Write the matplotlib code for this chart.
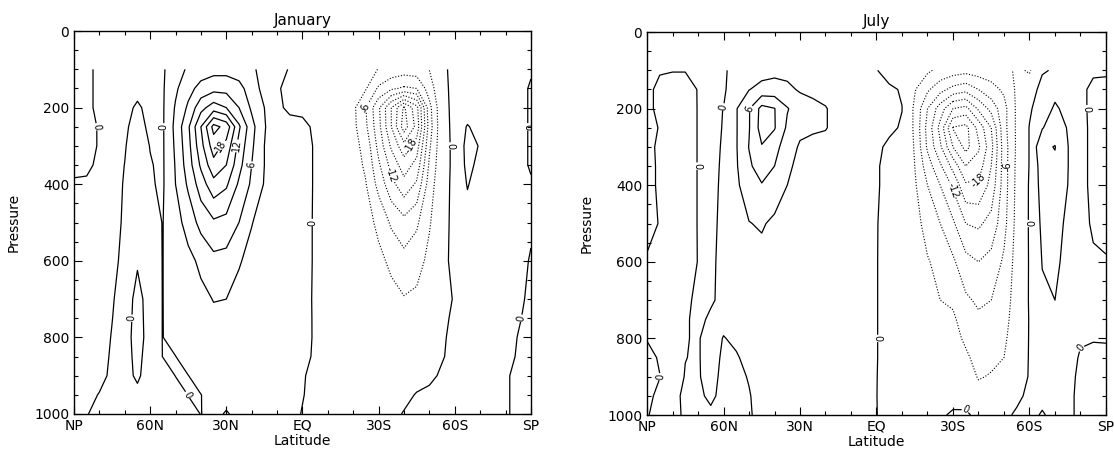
import numpy as np
import matplotlib
matplotlib.use("Agg")
import matplotlib.pyplot as plt
from matplotlib.ticker import MultipleLocator

# grid the streamfunction was read on (latitude NP -> SP, pressure top -> surface)
lats = [90, 85, 80, 75, 70, 65, 60, 55, 50, 45, 40, 35, 30, 25, 20, 15, 10, 5, 0,
        -5, -10, -15, -20, -25, -30, -35, -40, -45, -50, -55, -60, -65, -70, -75, -80, -85, -90]
pres = [100, 150, 200, 250, 300, 350, 400, 500, 600, 700, 750, 800, 850, 900, 950, 1000]

# January, one row per pressure level
jan_psi = [
    [0.6, 0.5, -0.5, -0.6, -0.6, -0.5, -0.4, -0.3, 1.5, 3.5, 4.5, 5.0, 5.0, 4.5, 3.5, 2.0, 0.5, -0.1, -0.2, -0.3, -0.4, -0.6, -1.0, -2.0, -3.1, -4.0, -4.5, -4.2, -2.9, -0.3, 0.4, 0.5, 0.5, 0.5, 0.4, 0.3, 0.1],
    [0.6, 0.5, -0.5, -0.6, -0.6, -0.4, -0.4, -0.3, 2.5, 5.0, 7.0, 8.0, 8.0, 7.0, 4.5, 2.0, 0.2, -0.5, -0.4, -0.8, -1.0, -1.3, -1.8, -2.8, -6.5, -8.5, -9.5, -9.0, -4.5, -0.4, 0.4, 0.6, 0.6, 0.6, 0.5, 0.3, -0.1],
    [0.6, 0.5, -0.5, -0.5, -0.4, 0.2, -0.4, -0.3, 3.3, 6.5, 11.0, 13.5, 12.0, 9.0, 5.5, 3.0, 0.3, -0.3, -0.3, -0.5, -0.8, -1.2, -2.3, -6.0, -11.5, -18.0, -24.5, -19.0, -7.0, -0.5, 0.4, 0.8, 1.0, 0.8, 0.6, 0.3, -0.1],
    [0.5, 0.4, -0.1, -0.4, -0.3, 0.7, -0.4, -0.3, 3.8, 8.5, 15.0, 22.0, 20.0, 12.5, 7.0, 3.2, 1.2, 0.5, 0.3, -0.2, -0.7, -1.2, -2.2, -5.5, -11.0, -18.0, -25.5, -20.0, -7.5, -0.6, 0.4, 3.3, 1.5, 1.0, 0.6, 0.3, -0.1],
    [0.5, 0.4, -0.1, -0.5, -0.1, 0.8, -0.05, -0.3, 3.5, 8.0, 14.0, 19.5, 17.0, 11.0, 6.5, 3.0, 1.5, 0.8, 0.6, -0.15, -0.7, -1.2, -2.0, -4.0, -10.0, -15.5, -20.0, -16.5, -6.5, -0.7, 0.4, 4.0, 2.8, 1.0, 0.6, 0.3, -0.1],
    [0.4, 0.4, -0.4, -0.5, 0.02, 1.0, 0.1, -0.3, 3.2, 7.5, 12.5, 17.0, 15.0, 10.0, 6.0, 3.0, 1.5, 0.8, 0.6, -0.15, -0.6, -1.1, -1.9, -3.4, -8.5, -13.0, -16.5, -14.0, -5.5, -0.7, 0.4, 3.8, 2.2, 0.9, 0.5, 0.3, -0.1],
    [-0.2, -0.3, -0.5, -0.5, 0.1, 1.0, 0.2, -0.3, 3.0, 6.5, 10.5, 14.0, 12.5, 8.5, 5.5, 2.8, 1.3, 0.7, 0.6, -0.15, -0.5, -1.0, -1.6, -2.9, -7.0, -11.0, -14.0, -11.5, -4.5, -0.6, 0.4, 3.2, 1.5, 0.8, 0.4, 0.2, 0.1],
    [-0.3, -0.4, -0.5, -0.5, 0.2, 0.8, 0.6, -0.05, 1.8, 4.2, 7.0, 8.5, 8.0, 6.0, 3.1, 2.0, 1.0, 0.6, 0.5, -0.15, -0.4, -0.8, -1.2, -2.0, -3.6, -6.5, -8.0, -6.5, -3.3, -0.5, 0.4, 1.8, 1.0, 0.7, 0.4, 0.2, 0.1],
    [-0.3, -0.4, -0.5, -0.4, 0.4, 0.1, 0.5, -0.03, 1.3, 2.2, 3.6, 5.2, 5.0, 3.2, 2.3, 1.5, 0.8, 0.6, 0.5, -0.15, -0.3, -0.6, -0.9, -1.4, -2.4, -3.5, -5.0, -4.2, -2.2, -0.4, 0.4, 0.9, 0.7, 0.5, 0.3, 0.2, -0.05],
    [-0.3, -0.4, -0.4, -0.1, 0.5, -0.3, 0.4, -0.02, 0.8, 1.5, 2.3, 3.1, 3.0, 2.3, 1.6, 1.0, 0.5, 0.5, 0.4, -0.15, -0.25, -0.4, -0.6, -1.0, -1.6, -2.3, -2.8, -2.4, -1.5, -0.4, 0.1, 0.7, 0.5, 0.4, 0.3, 0.1, -0.1],
    [-0.3, -0.4, -0.4, -0.02, 0.45, -0.35, 0.4, -0.02, 0.65, 1.25, 1.9, 2.5, 2.5, 1.9, 1.3, 0.85, 0.45, 0.45, 0.35, -0.12, -0.22, -0.35, -0.5, -0.8, -1.25, -1.8, -2.1, -1.85, -1.15, -0.3, 0.25, 0.65, 0.45, 0.35, 0.25, 0.05, -0.15],
    [-0.3, -0.4, -0.4, 0.05, 0.4, -0.4, 0.4, -0.02, 0.5, 1.0, 1.5, 2.0, 2.0, 1.5, 1.0, 0.7, 0.4, 0.4, 0.3, -0.1, -0.2, -0.3, -0.4, -0.6, -0.9, -1.3, -1.5, -1.3, -0.8, -0.2, 0.4, 0.6, 0.4, 0.3, 0.2, -0.02, -0.2],
    [-0.3, -0.4, -0.3, 0.1, 0.4, -0.3, 0.5, -0.02, -0.02, 0.6, 0.8, 1.2, 1.2, 1.0, 0.7, 0.5, 0.3, 0.3, 0.2, -0.1, -0.2, -0.3, -0.3, -0.4, -0.6, -0.9, -1.1, -0.9, -0.6, -0.1, 0.4, 0.5, 0.4, 0.3, 0.15, -0.05, -0.25],
    [-0.3, -0.3, -0.3, 0.2, 0.4, -0.2, 0.6, 0.5, -0.02, -0.02, 0.5, 0.6, 0.7, 0.6, 0.5, 0.4, 0.3, 0.2, 0.1, -0.3, -0.3, -0.3, -0.4, -0.5, -0.7, -0.8, -0.8, -0.6, -0.3, 0.2, 0.4, 0.5, 0.3, 0.2, 0.05, -0.1, -0.3],
    [-0.3, -0.3, 0.05, 0.3, 0.4, 0.3, 0.5, 0.5, 0.4, -0.02, -0.02, 0.4, 0.4, 0.4, 0.3, 0.3, 0.2, 0.2, 0.05, -0.3, -0.3, -0.3, -0.3, -0.4, -0.5, -0.5, -0.4, 0.1, 0.3, 0.3, 0.3, 0.3, 0.2, 0.15, 0.05, -0.1, -0.3],
    [-0.3, -0.05, 0.3, 0.3, 0.3, 0.3, 0.3, 0.3, 0.3, 0.3, -0.02, 0.3, -0.1, 0.3, 0.3, 0.3, 0.2, 0.3, -0.05, -0.2, -0.3, -0.3, -0.3, -0.4, -0.4, -0.4, 0.1, 0.3, 0.3, 0.3, 0.3, 0.3, 0.2, 0.1, 0.05, -0.1, -0.3],
]

# July, one row per pressure level
jul_psi = [
    [-0.3, -0.1, -0.05, -0.05, -0.3, -0.3, -0.2, 0.5, 1.2, 1.8, 2.2, 2.2, 2.0, 1.6, 1.2, 0.9, 0.6, 0.3, 0.05, -0.5, -0.8, -1.5, -2.5, -3.8, -4.5, -5.0, -4.5, -4.5, -4.0, -2.5, -3.3, -0.3, 0.3, 0.3, 0.1, 0.2, 0.2],
    [-0.3, 0.3, 0.5, 0.5, -0.05, -0.3, -0.2, 0.8, 2.9, 4.0, 4.2, 3.6, 2.7, 2.3, 1.8, 1.2, 0.8, 0.4, 0.3, 0.2, -0.1, -2.8, -5.5, -8.0, -10.0, -11.0, -9.0, -7.0, -5.5, -2.5, -1.5, 1.0, 2.0, 0.8, 0.3, -0.3, -0.4],
    [-0.3, 0.3, 0.6, 0.6, -0.05, -0.3, 0.02, 2.8, 5.8, 10.0, 9.1, 6.2, 4.5, 3.8, 3.2, 1.8, 1.0, 0.6, 0.4, 0.3, 0.02, -3.5, -9.0, -13.5, -18.0, -19.0, -14.5, -11.0, -7.0, -2.5, -0.3, 1.2, 3.5, 2.0, 0.4, -0.4, -0.5],
    [-0.3, 0.05, 0.6, 0.6, -0.05, -0.3, 0.05, 2.8, 5.8, 10.3, 9.2, 5.5, 3.6, 3.4, 3.2, 1.8, 0.9, 0.5, 0.3, 0.2, -0.1, -3.5, -10.0, -16.0, -24.2, -25.0, -20.0, -15.0, -7.0, -2.5, 0.1, 2.8, 4.8, 2.8, 0.5, -0.4, -0.5],
    [-0.3, 0.2, 0.6, 0.6, -0.05, -0.3, 0.1, 2.8, 6.1, 8.8, 7.2, 4.2, 2.7, 2.2, 1.8, 1.2, 0.8, 0.5, 0.2, -0.2, -0.8, -3.2, -9.5, -14.5, -21.0, -25.0, -21.5, -16.0, -7.5, -2.5, 0.1, 5.5, 6.1, 3.1, 0.5, -0.4, -0.5],
    [-0.3, 0.15, 0.6, 0.6, -0.05, -0.3, 0.15, 2.7, 5.5, 7.5, 6.0, 3.5, 2.3, 1.8, 1.5, 1.0, 0.7, 0.4, 0.1, -0.3, -1.0, -3.0, -7.5, -11.5, -16.0, -21.0, -19.5, -15.0, -7.5, -2.3, 0.1, 4.5, 5.5, 3.1, 0.5, -0.4, -0.5],
    [-0.3, 0.15, 0.6, 0.6, -0.05, -0.3, 0.2, 2.5, 4.5, 5.8, 4.8, 3.0, 2.0, 1.5, 1.2, 0.9, 0.6, 0.3, 0.1, -0.3, -1.0, -2.6, -6.0, -9.0, -12.5, -17.5, -17.5, -14.0, -7.5, -2.2, 0.2, 4.2, 5.0, 3.0, 0.5, -0.4, -0.5],
    [-0.3, 0.05, 0.6, 0.6, -0.05, -0.3, 0.3, 1.5, 2.9, 3.3, 2.4, 1.8, 1.3, 1.0, 0.8, 0.6, 0.4, 0.2, 0.05, -0.4, -0.9, -2.0, -4.0, -6.0, -8.5, -12.0, -12.5, -11.0, -7.0, -2.0, 0.2, 3.6, 4.5, 2.2, 0.5, -0.2, -0.4],
    [0.1, 0.4, 0.6, 0.5, -0.03, -0.2, 0.3, 1.0, 1.8, 2.1, 1.7, 1.3, 1.0, 0.8, 0.6, 0.5, 0.3, 0.2, 0.05, -0.5, -0.8, -1.4, -2.8, -3.8, -5.5, -8.0, -9.0, -8.0, -5.5, -1.8, 0.15, 3.1, 4.0, 1.5, 0.5, 0.2, 0.1],
    [0.2, 0.4, 0.5, 0.2, -0.2, -0.15, 0.3, 0.7, 1.1, 1.3, 1.1, 0.9, 0.7, 0.6, 0.5, 0.4, 0.3, 0.2, 0.05, -0.5, -0.7, -1.0, -1.8, -3.0, -3.5, -5.5, -6.5, -6.0, -4.5, -1.6, 0.15, 2.6, 3.0, 1.0, 0.4, 0.3, 0.3],
    [0.2, 0.4, 0.4, 0.15, -0.3, 0.2, 0.3, 0.5, 0.8, 1.0, 0.9, 0.7, 0.6, 0.5, 0.4, 0.3, 0.3, 0.2, 0.05, -0.5, -0.6, -0.8, -1.3, -1.8, -2.5, -4.5, -5.5, -5.0, -4.0, -1.5, 0.1, 1.3, 2.0, 0.8, 0.3, 0.2, 0.2],
    [0.05, 0.4, 0.4, 0.05, -0.1, 0.5, -0.05, 0.2, 0.5, 0.7, 0.6, 0.5, 0.4, 0.4, 0.3, 0.3, 0.2, 0.15, 0.05, -0.5, -0.5, -0.7, -1.0, -1.3, -2.0, -3.5, -4.8, -4.2, -3.5, -1.3, 0.1, 1.0, 1.5, 0.6, 0.1, 0.05, 0.1],
    [-0.3, 0.1, 0.5, 0.02, -0.1, 0.5, -0.2, -0.1, 0.3, 0.5, 0.45, 0.4, 0.35, 0.3, 0.3, 0.2, 0.2, 0.1, 0.05, -0.5, -0.5, -0.6, -0.8, -1.0, -1.5, -2.5, -4.0, -3.6, -3.0, -1.0, 0.1, 0.7, 1.2, 0.4, -0.1, -0.2, -0.3],
    [-0.3, -0.02, 0.5, -0.05, -0.1, 0.4, -0.3, -0.2, 0.05, 0.4, 0.4, 0.35, 0.3, 0.3, 0.25, 0.2, 0.15, 0.1, 0.03, -0.5, -0.4, -0.5, -0.6, -0.7, -1.0, -1.7, -3.2, -2.8, -2.0, -0.7, 0.1, 0.5, 0.8, 0.3, -0.2, -0.3, -0.3],
    [-0.2, 0.2, 0.3, -0.2, -0.2, 0.2, -0.3, -0.2, -0.05, 0.3, 0.3, 0.3, 0.25, 0.2, 0.2, 0.15, 0.1, 0.08, 0.02, -0.5, -0.3, -0.4, -0.4, -0.4, -0.5, -0.8, -2.0, -1.8, -1.2, -0.3, 0.3, 0.3, 0.5, 0.2, -0.2, -0.3, -0.3],
    [-0.1, 0.5, 0.4, -0.2, -0.3, -0.2, -0.2, -0.2, -0.1, 0.3, 0.3, 0.3, 0.2, 0.2, 0.15, 0.1, 0.1, 0.05, 0.02, -0.3, -0.2, -0.2, -0.2, -0.2, 0.2, 0.3, -0.5, -0.6, -0.3, 0.2, 0.3, -0.1, 0.3, 0.2, -0.2, -0.3, -0.3],
]

lat_ticks = [90, 60, 30, 0, -30, -60, -90]
lat_labels = ["NP", "60N", "30N", "EQ", "30S", "60S", "SP"]
neg_levels = [-27, -24, -21, -18, -15, -12, -9, -6, -3]
pos_levels = [0, 3, 6, 9, 12, 15, 18, 21, 24]

plt.rcParams['font.family'] = ['DejaVu Sans']
fig = plt.figure(figsize=(11.14, 4.57), dpi=100)
ax1 = fig.add_axes([0.0664, 0.0941, 0.4102, 0.838])
ax2 = fig.add_axes([0.5808, 0.0919, 0.4120, 0.838])

for ax, psi, title in [(ax1, jan_psi, "January"), (ax2, jul_psi, "July")]:
    z = np.array(psi)
    cn = ax.contour(lats, pres, z, levels=neg_levels, colors='k',
                    linewidths=0.8, linestyles=[(0, (1, 1.6))])
    cp = ax.contour(lats, pres, z, levels=pos_levels, colors='k',
                    linewidths=0.9, linestyles='solid')
    ax.clabel(cp, levels=[0, 6, 12, 18], fmt='%d', fontsize=7, inline=True, inline_spacing=1)
    ax.clabel(cn, levels=[-6, -12, -18], fmt='%d', fontsize=7, inline=True, inline_spacing=1)

    ax.set_xlim(90, -90)
    ax.set_ylim(1000, 0)
    ax.set_xticks(lat_ticks)
    ax.set_xticklabels(lat_labels)
    ax.xaxis.set_minor_locator(MultipleLocator(10))
    ax.set_yticks([0, 200, 400, 600, 800, 1000])
    ax.yaxis.set_minor_locator(MultipleLocator(50))
    ax.tick_params(which='both', direction='in', top=True, right=True, labelsize=10, width=0.8)
    ax.tick_params(which='major', length=6)
    ax.tick_params(which='minor', length=3)
    for s in ax.spines.values():
        s.set_linewidth(1.0)
    ax.set_xlabel("Latitude", fontsize=10, labelpad=1)
    ax.set_ylabel("Pressure", fontsize=10)
    ax.yaxis.set_label_coords(-0.116, 0.5)
    ax.set_title(title, fontsize=11, pad=4)

fig.savefig("out.png", dpi=100)
